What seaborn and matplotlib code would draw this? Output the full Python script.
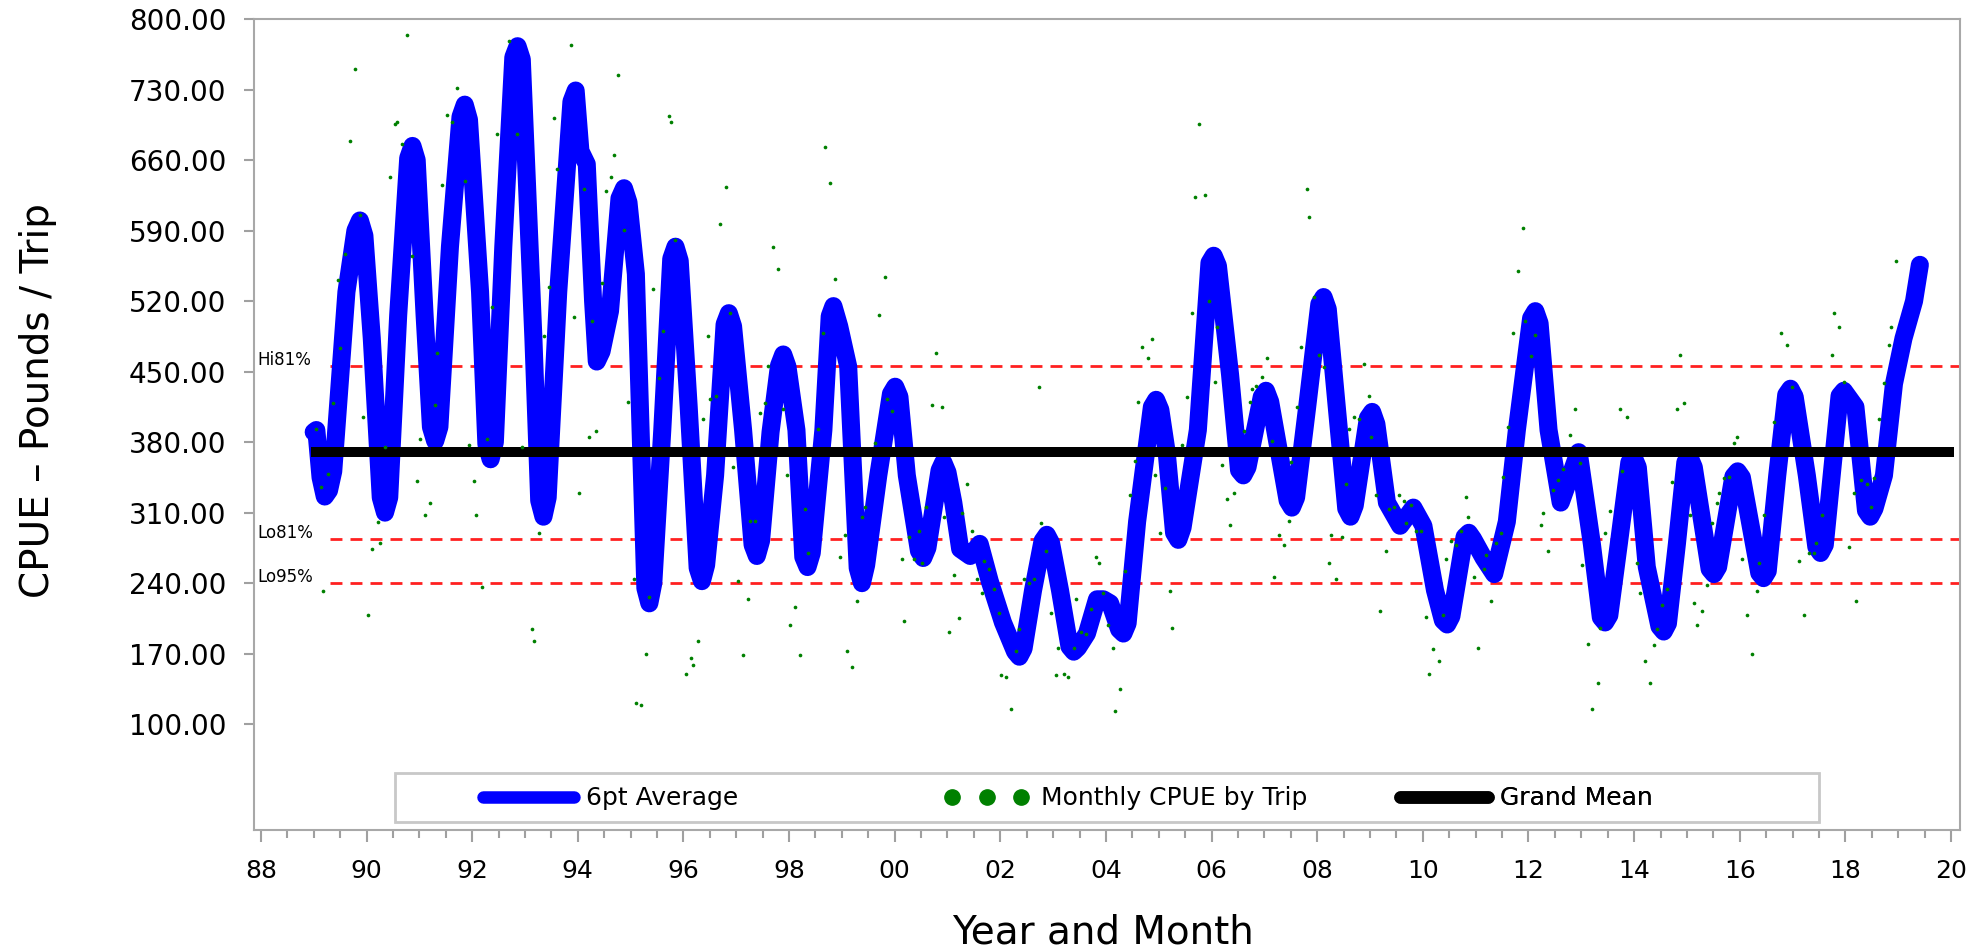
import numpy as np
import pandas as pd
import matplotlib
matplotlib.use("Agg")
import matplotlib.pyplot as plt
from matplotlib.lines import Line2D
from matplotlib.patches import Rectangle
from matplotlib.ticker import FixedLocator, MultipleLocator, FuncFormatter
import seaborn as sns

sns.set_style("white")
plt.rcParams["font.family"] = ["DejaVu Sans"]
plt.rcParams["text.color"] = "black"

# 6pt moving average, (year, cpue)
avg_points = [
    (1989.00, 390), (1989.05, 392), (1989.13, 345), (1989.21, 326), (1989.29, 332), (1989.37, 351),
    (1989.62, 529), (1989.79, 590), (1989.875, 600), (1989.96, 585), (1990.10, 483), (1990.27, 325),
    (1990.35, 310), (1990.43, 325), (1990.60, 506), (1990.79, 662), (1990.87, 674), (1990.95, 660),
    (1991.10, 506), (1991.22, 395), (1991.30, 381), (1991.38, 395), (1991.58, 574), (1991.78, 703),
    (1991.86, 715), (1991.94, 700), (1992.15, 529), (1992.27, 378), (1992.35, 363), (1992.43, 380),
    (1992.59, 574), (1992.78, 762), (1992.86, 773), (1992.94, 760), (1993.16, 483), (1993.27, 322),
    (1993.35, 306), (1993.43, 325), (1993.63, 529), (1993.88, 718), (1993.96, 729), (1994.05, 669),
    (1994.17, 656), (1994.29, 520), (1994.36, 460), (1994.45, 470), (1994.61, 510), (1994.79, 622),
    (1994.875, 632), (1994.96, 618), (1995.10, 547), (1995.28, 235), (1995.355, 220), (1995.43, 240),
    (1995.60, 392), (1995.77, 562), (1995.85, 574), (1995.93, 560), (1996.10, 415), (1996.27, 255),
    (1996.35, 242), (1996.43, 258), (1996.60, 347), (1996.78, 497), (1996.86, 508), (1996.94, 495),
    (1997.13, 392), (1997.31, 278), (1997.39, 267), (1997.47, 282), (1997.65, 390), (1997.81, 456),
    (1997.89, 467), (1997.97, 455), (1998.14, 392), (1998.27, 266), (1998.35, 256), (1998.43, 270),
    (1998.65, 392), (1998.77, 505), (1998.84, 515), (1998.95, 495), (1999.12, 455), (1999.30, 255),
    (1999.38, 240), (1999.46, 258), (1999.69, 347), (1999.93, 428), (2000.01, 435), (2000.09, 425),
    (2000.23, 347), (2000.46, 272), (2000.54, 265), (2000.62, 275), (2000.85, 352), (2000.92, 360),
    (2001.00, 350), (2001.11, 320), (2001.24, 274), (2001.43, 267), (2001.61, 279), (2001.80, 242),
    (2002.05, 201), (2002.28, 172), (2002.36, 167), (2002.44, 175), (2002.62, 233), (2002.80, 282),
    (2002.88, 288), (2002.96, 280), (2003.13, 233), (2003.31, 177), (2003.39, 172), (2003.47, 176),
    (2003.64, 190), (2003.83, 224), (2003.95, 224), (2004.08, 220), (2004.25, 194), (2004.33, 190),
    (2004.41, 200), (2004.59, 301), (2004.87, 415), (2004.95, 422), (2005.03, 412), (2005.15, 370),
    (2005.29, 290), (2005.37, 283), (2005.45, 295), (2005.74, 392), (2005.96, 558), (2006.04, 565),
    (2006.12, 555), (2006.35, 447), (2006.52, 352), (2006.60, 347), (2006.68, 355), (2006.95, 425),
    (2007.03, 431), (2007.11, 420), (2007.44, 322), (2007.52, 315), (2007.60, 325), (2007.81, 415),
    (2008.04, 517), (2008.12, 524), (2008.20, 512), (2008.37, 415), (2008.55, 314), (2008.63, 306),
    (2008.71, 317), (2008.96, 404), (2009.04, 410), (2009.12, 398), (2009.32, 320), (2009.57, 297),
    (2009.82, 315), (2010.01, 297), (2010.23, 233), (2010.38, 203), (2010.46, 199), (2010.54, 207),
    (2010.79, 286), (2010.87, 290), (2010.95, 284), (2011.15, 265), (2011.35, 249), (2011.59, 301),
    (2011.78, 392), (2012.05, 503), (2012.13, 510), (2012.21, 498), (2012.38, 392), (2012.61, 320),
    (2012.95, 370), (2013.20, 279), (2013.37, 206), (2013.45, 201), (2013.53, 208), (2013.71, 279),
    (2013.91, 360), (2013.99, 365), (2014.07, 355), (2014.24, 256), (2014.48, 197), (2014.56, 192),
    (2014.64, 200), (2014.81, 279), (2014.97, 360), (2015.05, 365), (2015.13, 355), (2015.43, 254),
    (2015.51, 249), (2015.59, 256), (2015.88, 346), (2015.96, 351), (2016.04, 345), (2016.37, 250),
    (2016.45, 245), (2016.53, 252), (2016.71, 347), (2016.88, 427), (2016.96, 433), (2017.04, 425),
    (2017.27, 347), (2017.45, 276), (2017.53, 270), (2017.61, 278), (2017.89, 426), (2017.97, 431),
    (2018.19, 415), (2018.39, 312), (2018.47, 306), (2018.55, 314), (2018.73, 347), (2018.92, 438),
    (2019.10, 483), (2019.30, 520), (2019.41, 556),
]
avg_year = [p[0] for p in avg_points]
avg_cpue = [p[1] for p in avg_points]

# monthly CPUE by trip
trip_year = [1989.04, 1989.13, 1989.17, 1989.27, 1989.36, 1989.46, 1989.50, 1989.60, 1989.69, 1989.79,
             1989.88, 1989.93, 1990.02, 1990.11, 1990.21, 1990.25, 1990.35, 1990.44, 1990.54, 1990.58,
             1990.68, 1990.77, 1990.87, 1990.96, 1991.01, 1991.10, 1991.20, 1991.30, 1991.34, 1991.43,
             1991.53, 1991.62, 1991.71, 1991.86, 1991.95, 1992.04, 1992.08, 1992.19, 1992.28, 1992.37,
             1992.47, 1992.70, 1992.84, 1992.94, 1993.13, 1993.17, 1993.27, 1993.36, 1993.46, 1993.55,
             1993.60, 1993.88, 1993.93, 1994.02, 1994.12, 1994.21, 1994.26, 1994.35, 1994.45, 1994.54,
             1994.63, 1994.68, 1994.77, 1994.87, 1994.96, 1995.06, 1995.10, 1995.20, 1995.29, 1995.34,
             1995.43, 1995.53, 1995.62, 1995.72, 1995.76, 1995.85, 1996.04, 1996.14, 1996.18, 1996.28,
             1996.37, 1996.47, 1996.51, 1996.61, 1996.70, 1996.80, 1996.89, 1996.94, 1997.03, 1997.12,
             1997.22, 1997.26, 1997.36, 1997.45, 1997.55, 1997.60, 1997.69, 1997.79, 1997.88, 1997.97,
             1998.02, 1998.12, 1998.21, 1998.30, 1998.35, 1998.54, 1998.64, 1998.68, 1998.77, 1998.87,
             1998.96, 1999.06, 1999.10, 1999.20, 1999.29, 1999.38, 1999.43, 1999.62, 1999.71, 1999.81,
             1999.85, 1999.94, 2000.13, 2000.18, 2000.27, 2000.37, 2000.46, 2000.51, 2000.60, 2000.70,
             2000.79, 2000.89, 2000.94, 2001.03, 2001.12, 2001.22, 2001.27, 2001.36, 2001.46, 2001.55,
             2001.65, 2001.70, 2001.79, 2001.88, 2001.98, 2002.02, 2002.11, 2002.21, 2002.30, 2002.35,
             2002.44, 2002.54, 2002.63, 2002.73, 2002.77, 2002.87, 2002.96, 2003.06, 2003.10, 2003.20,
             2003.29, 2003.39, 2003.43, 2003.53, 2003.62, 2003.72, 2003.81, 2003.86, 2003.94, 2004.03,
             2004.13, 2004.17, 2004.27, 2004.37, 2004.46, 2004.55, 2004.60, 2004.69, 2004.79, 2004.88,
             2004.92, 2005.02, 2005.11, 2005.21, 2005.25, 2005.44, 2005.54, 2005.63, 2005.68, 2005.77,
             2005.87, 2005.96, 2006.06, 2006.10, 2006.20, 2006.29, 2006.34, 2006.43, 2006.62, 2006.72,
             2006.76, 2006.85, 2006.95, 2007.04, 2007.14, 2007.18, 2007.28, 2007.37, 2007.47, 2007.51,
             2007.61, 2007.70, 2007.80, 2007.84, 2007.94, 2008.03, 2008.13, 2008.22, 2008.27, 2008.36,
             2008.46, 2008.55, 2008.60, 2008.69, 2008.79, 2008.88, 2008.98, 2009.02, 2009.12, 2009.18,
             2009.31, 2009.35, 2009.45, 2009.54, 2009.64, 2009.68, 2009.78, 2009.87, 2009.97, 2010.06,
             2010.11, 2010.20, 2010.30, 2010.39, 2010.44, 2010.54, 2010.63, 2010.72, 2010.82, 2010.86,
             2010.96, 2011.05, 2011.15, 2011.19, 2011.29, 2011.38, 2011.48, 2011.52, 2011.61, 2011.71,
             2011.80, 2011.90, 2011.94, 2012.04, 2012.13, 2012.23, 2012.27, 2012.37, 2012.46, 2012.56,
             2012.65, 2012.79, 2012.88, 2012.98, 2013.02, 2013.12, 2013.21, 2013.31, 2013.35, 2013.45,
             2013.54, 2013.73, 2013.78, 2013.87, 2014.06, 2014.11, 2014.20, 2014.30, 2014.38, 2014.43,
             2014.53, 2014.62, 2014.72, 2014.81, 2014.86, 2014.95, 2015.05, 2015.14, 2015.19, 2015.28,
             2015.38, 2015.47, 2015.57, 2015.61, 2015.71, 2015.80, 2015.90, 2015.94, 2016.04, 2016.13,
             2016.23, 2016.32, 2016.37, 2016.46, 2016.65, 2016.79, 2016.89, 2016.98, 2017.12, 2017.22,
             2017.31, 2017.41, 2017.45, 2017.55, 2017.74, 2017.78, 2017.88, 2017.97, 2018.07, 2018.16,
             2018.21, 2018.30, 2018.40, 2018.49, 2018.54, 2018.63, 2018.73, 2018.82, 2018.87, 2018.96]
trip_cpue = [393, 335, 232, 348, 419, 541, 473, 567, 679, 750,
             605, 405, 208, 274, 301, 280, 375, 643, 696, 698,
             676, 784, 565, 341, 383, 308, 320, 417, 468, 635,
             705, 698, 732, 639, 377, 341, 308, 236, 383, 514,
             686, 778, 686, 375, 195, 183, 290, 485, 534, 702,
             651, 774, 504, 330, 631, 385, 500, 391, 538, 629,
             643, 665, 744, 591, 420, 244, 121, 119, 170, 226,
             532, 444, 490, 704, 698, 581, 150, 166, 159, 183,
             403, 485, 423, 426, 597, 633, 508, 355, 242, 169,
             224, 302, 302, 409, 419, 456, 574, 552, 413, 347,
             198, 216, 169, 314, 270, 393, 488, 673, 637, 542,
             266, 288, 173, 157, 222, 306, 316, 379, 506, 544,
             423, 411, 264, 202, 286, 264, 292, 260, 316, 417,
             468, 415, 306, 192, 248, 205, 310, 338, 292, 244,
             230, 262, 254, 234, 210, 149, 147, 115, 173, 195,
             244, 240, 244, 435, 300, 272, 210, 149, 176, 150,
             147, 176, 224, 192, 190, 214, 266, 260, 230, 198,
             176, 113, 135, 252, 328, 361, 420, 474, 464, 482,
             347, 290, 334, 232, 196, 377, 425, 508, 623, 696,
             625, 520, 440, 494, 357, 324, 298, 330, 391, 420,
             433, 436, 445, 464, 381, 246, 288, 278, 302, 360,
             415, 474, 631, 603, 524, 466, 455, 260, 288, 244,
             286, 338, 393, 405, 403, 458, 426, 385, 328, 212,
             272, 314, 316, 328, 322, 300, 318, 292, 292, 206,
             150, 175, 163, 208, 264, 282, 278, 292, 326, 306,
             246, 176, 254, 268, 222, 280, 290, 345, 395, 488,
             550, 593, 500, 465, 486, 298, 310, 272, 332, 342,
             353, 387, 413, 359, 258, 180, 115, 141, 196, 290,
             312, 413, 351, 405, 260, 230, 163, 141, 179, 195,
             218, 234, 340, 413, 466, 419, 308, 220, 198, 212,
             238, 300, 320, 330, 344, 345, 379, 385, 264, 208,
             170, 232, 260, 308, 400, 488, 476, 435, 262, 208,
             270, 270, 280, 308, 466, 508, 494, 440, 276, 330,
             222, 342, 338, 316, 344, 403, 439, 476, 494, 560]

grand_mean = 370
ref_levels = [456, 284, 240]
ref_labels = ["Hi81%", "Lo81%", "Lo95%"]
y_ticks = [100, 170, 240, 310, 380, 450, 520, 590, 660, 730, 800]
x_ticks = list(range(1988, 2021, 2))

avg_df = pd.DataFrame({"year": avg_year, "cpue": avg_cpue})
trip_df = pd.DataFrame({"year": trip_year, "cpue": trip_cpue})

W, H = 1977, 950
fig = plt.figure(figsize=(W / 100, H / 100), dpi=100)
ax = fig.add_axes([254 / W, 120 / H, 1706 / W, 811 / H])
x_lo, x_hi = 1987.87, 2020.17
ax.set_xlim(x_lo, x_hi)
ax.set_ylim(-5, 800)

# reference limits
ax.hlines(ref_levels, 1989.3, x_hi, colors="#ff2020", linestyles=(0, (4.3, 2.9)), lw=2, zorder=1)
for lvl, lab in zip(ref_levels, ref_labels):
    ax.text(0.002, lvl + 1, lab, transform=ax.get_yaxis_transform(), fontsize=12,
            ha="left", va="baseline", color="black")

sns.lineplot(data=avg_df, x="year", y="cpue", ax=ax, color="blue", linewidth=13,
             solid_joinstyle="round", solid_capstyle="round", zorder=2, legend=False)
ax.hlines(grand_mean, 1988.95, 2020.05, colors="black", lw=7.2, zorder=3)
sns.scatterplot(data=trip_df, x="year", y="cpue", ax=ax, color="#008000", s=7,
                linewidth=0, zorder=4, legend=False)

# axes styling
ax.yaxis.set_major_locator(FixedLocator(y_ticks))
ax.yaxis.set_major_formatter(FuncFormatter(lambda v, p: f"{v:.2f}"))
ax.xaxis.set_major_locator(FixedLocator(x_ticks))
ax.xaxis.set_minor_locator(MultipleLocator(0.5))
ax.xaxis.set_major_formatter(FuncFormatter(lambda v, p: f"{int(round(v)) % 100:02d}"))
ax.tick_params(axis="x", which="major", bottom=True, length=8.6, width=1.5, color="#a0a0a0",
               labelsize=18, pad=12, labelcolor="black")
ax.tick_params(axis="x", which="minor", bottom=True, length=5.8, width=1.5, color="#a0a0a0")
ax.tick_params(axis="y", which="major", left=True, length=7, width=1.5, color="#a0a0a0",
               labelsize=20, pad=13, labelcolor="black")
for sp in ax.spines.values():
    sp.set_color("#a8a8a8")
    sp.set_linewidth(1.5)
ax.set_xlabel("")
ax.set_ylabel("")

# legend
ax.add_patch(Rectangle((0.0824, 0.0099), 0.8352, 0.0604, transform=ax.transAxes,
                       fill=False, edgecolor="#c8c8c8", lw=2, zorder=5))
leg_y = 0.039
h_avg = Line2D([], [], color="blue", lw=9)
h_trip = Line2D([], [], color="#008000", marker="o", ls="none", markersize=11)
h_mean = Line2D([], [], color="black", lw=9)
specs = [(h_avg, "6pt Average", 0.1342, 3.64, 1),
         (h_trip, "Monthly CPUE by Trip", 0.4048, 3.36, 3),
         (h_mean, "Grand Mean", 0.6717, 3.52, 1)]
for h, lab, x0, hl, npts in specs:
    leg = ax.legend([h], [lab], loc="center left", bbox_to_anchor=(x0, leg_y),
                    frameon=False, fontsize=18, handlelength=hl, handletextpad=0.5,
                    borderpad=0, borderaxespad=0, numpoints=npts, labelcolor="black")
    ax.add_artist(leg)

fig.text(38 / W, 1 - 401 / H, "CPUE \u2013 Pounds / Trip", rotation=90, ha="center",
         va="center", fontsize=28, color="black")
fig.text(1103 / W, 1 - 932 / H, "Year and Month", ha="center", va="center", fontsize=28,
         color="black")

fig.savefig("out.png", dpi=100)
